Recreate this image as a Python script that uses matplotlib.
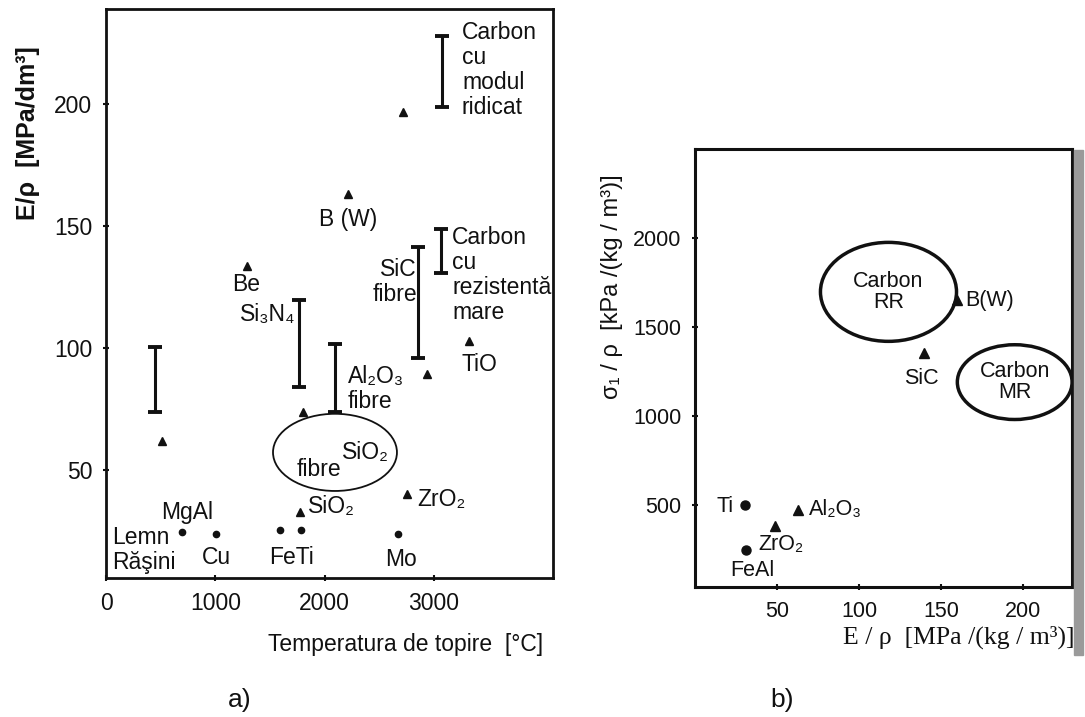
import numpy as np
import matplotlib
matplotlib.use("Agg")
import matplotlib.pyplot as plt
from matplotlib.patches import Ellipse, Rectangle

plt.rcParams['font.family'] = ['Liberation Sans', 'DejaVu Sans']

# --- a) specific modulus vs. melting temperature ---
tri_T = [512, 1290, 1802, 1775, 2214, 2717, 2754, 2937, 3321]
tri_E = [62, 133.6, 73.8, 32.8, 163, 196.7, 40.2, 89.3, 102.9]
dot_T = [695, 1006, 1590, 1780, 2672]
dot_E = [24.6, 24.0, 25.5, 25.5, 23.8]
bar_T = [450, 1766, 2095, 2855, 3074, 3065]
bar_lo = [74, 84, 73.8, 95.9, 199, 130.7]
bar_hi = [100.4, 120, 101.6, 141.4, 228, 148.8]
sio2_region = (2095, 57.4, 1134, 31.6)   # centre T, centre E, width, height

labels_a = [
    ("Carbon\ncu\nmodul\nridicat", 3257, 234, 'left', 'top'),
    ("Carbon\ncu\nrezistentă\nmare", 3166, 150, 'left', 'top'),
    ("B (W)", 2214, 152.9, 'center', 'center'),
    ("SiC\nfibre", 2845, 137, 'right', 'top'),
    ("Be", 1153, 126.2, 'left', 'center'),
    ("Si₃N₄", 1226, 114, 'left', 'center'),
    ("Al₂O₃\nfibre", 2214, 93, 'left', 'top'),
    ("TiO", 3257, 93.4, 'left', 'center'),
    ("SiO₂", 2159, 57.4, 'left', 'center'),
    ("fibre", 1747, 50.4, 'left', 'center'),
    ("SiO₂", 1848, 35.2, 'left', 'center'),
    ("ZrO₂", 2845, 38.1, 'left', 'center'),
    ("Mo", 2699, 13.5, 'center', 'center'),
    ("MgAl", 741, 32.8, 'center', 'center'),
    ("Lemn", 55, 22.5, 'left', 'center'),
    ("Răşini", 55, 12.3, 'left', 'center'),
    ("Cu", 1006, 14.3, 'center', 'center'),
    ("FeTi", 1693, 14.3, 'center', 'center'),
]

# --- b) specific strength vs. specific modulus ---
b_dot_x = [30.4, 31]
b_dot_y = [500, 247]
b_tri_x = [48.6, 63, 139.6, 160]
b_tri_y = [382, 472, 1354, 1650]
carbon_rr = (118, 1697, 83, 556)
carbon_mr = (195, 1190, 70, 420)

labels_b = [
    ("Ti", 23.7, 489, 'right', 'center'),
    ("Al₂O₃", 69.2, 472, 'left', 'center'),
    ("ZrO₂", 38.9, 275, 'left', 'center'),
    ("FeAl", 21.3, 129, 'left', 'center'),
    ("SiC", 137.8, 1213, 'center', 'center'),
    ("B(W)", 165, 1650, 'left', 'center'),
    ("Carbon\nRR", 118, 1697, 'center', 'center'),
    ("Carbon\nMR", 195, 1190, 'center', 'center'),
]

fig = plt.figure(figsize=(10.85, 7.17), dpi=100)
ink = '#111111'

ax1 = fig.add_axes([0.0977, 0.194, 0.412, 0.7936])
ax1.set_xlim(0, 4090)
ax1.set_ylim(6, 239)
ax1.plot(tri_T, tri_E, '^', color=ink, ms=5.5)
ax1.plot(dot_T, dot_E, 'o', color=ink, ms=4.5)
ax1.vlines(bar_T, bar_lo, bar_hi, color=ink, lw=2.2)
ax1.plot(bar_T, bar_lo, '_', color=ink, ms=10, mew=2.8)
ax1.plot(bar_T, bar_hi, '_', color=ink, ms=10, mew=2.8)
cx, cy, w, h = sio2_region
ax1.add_patch(Ellipse((cx, cy), w, h, fill=False, ec=ink, lw=1.3))
for txt, x, y, ha, va in labels_a:
    ax1.text(x, y, txt, ha=ha, va=va, fontsize=16.5, color=ink, linespacing=1.1)
ax1.set_xticks([0, 1000, 2000, 3000])
ax1.set_yticks([50, 100, 150, 200])
ax1.tick_params(direction='inout', length=4, width=1.5, labelsize=16.5, colors=ink, pad=8)
for s in ax1.spines.values():
    s.set_linewidth(2)
    s.set_color(ink)

ax2 = fig.add_axes([0.6406, 0.1813, 0.3475, 0.611])
ax2.set_xlim(0, 230)
ax2.set_ylim(39, 2500)
ax2.plot(b_dot_x, b_dot_y, 'o', color=ink, ms=6.5)
ax2.plot(b_tri_x, b_tri_y, '^', color=ink, ms=6.5)
for cx, cy, w, h in (carbon_rr, carbon_mr):
    ax2.add_patch(Ellipse((cx, cy), w, h, fill=False, ec=ink, lw=2.5))
for txt, x, y, ha, va in labels_b:
    ax2.text(x, y, txt, ha=ha, va=va, fontsize=15.5, color=ink, linespacing=1.0)
ax2.set_xticks([50, 100, 150, 200])
ax2.set_yticks([500, 1000, 1500, 2000])
ax2.tick_params(direction='inout', length=4, width=1.5, labelsize=15.5, colors=ink, pad=8)
for s in ax2.spines.values():
    s.set_linewidth(2.2)
    s.set_color(ink)

# axis titles
fig.text(406 / 1085, 1 - 645 / 717, "Temperatura de topire  [°C]", ha='center', va='center',
         fontsize=16.5, color=ink)
fig.text(28 / 1085, 1 - 133 / 717, "E/ρ  [MPa/dm³]", rotation=90, ha='center', va='center',
         fontsize=18, fontweight='bold', color=ink)
fig.text(959 / 1085, 1 - 637 / 717, "E / ρ  [MPa /(kg / m³)]", ha='center', va='center',
         fontsize=18.5, family=['Liberation Serif', 'DejaVu Serif'], color=ink)
fig.text(612 / 1085, 1 - 287 / 717, "σ₁ / ρ  [kPa /(kg / m³)]", rotation=90, ha='center', va='center',
         fontsize=17, color=ink)

fig.text(240 / 1085, 1 - 700 / 717, "a)", ha='center', va='center', fontsize=19, color=ink)
fig.text(782 / 1085, 1 - 700 / 717, "b)", ha='center', va='center', fontsize=19, color=ink)

# grey strip along the right edge of panel b
fig.patches.append(Rectangle((1074 / 1085, 1 - 655 / 717), 9 / 1085, (655 - 150) / 717,
                             transform=fig.transFigure, color='#9a9a9a', zorder=0))

fig.savefig('out.png', dpi=100)
